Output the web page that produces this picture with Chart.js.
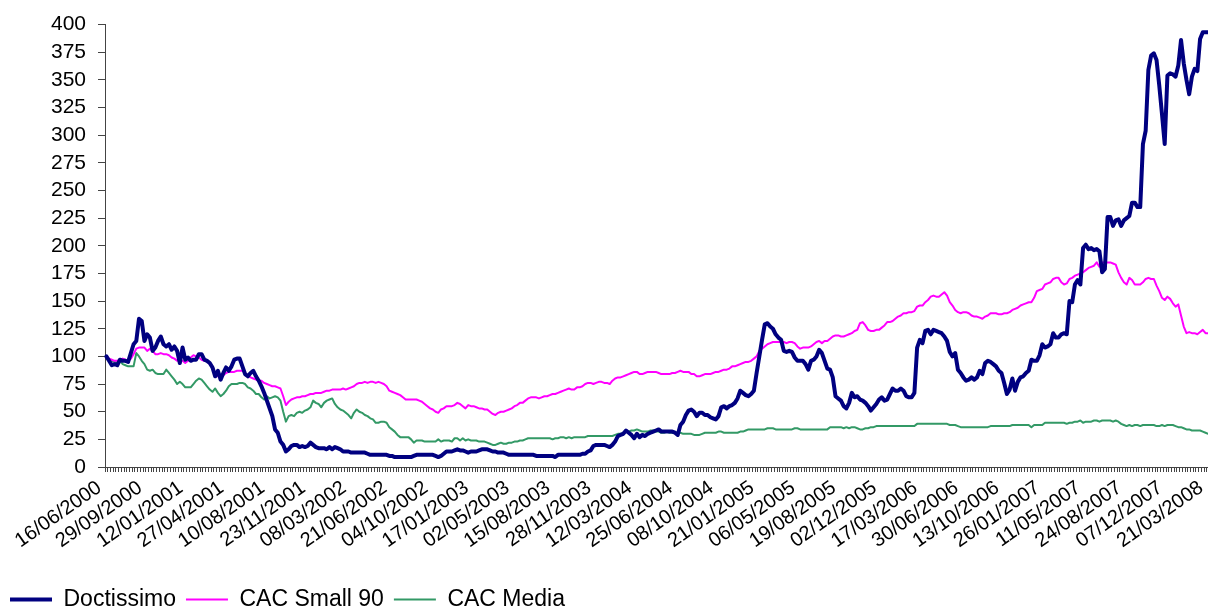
<!DOCTYPE html>
<html>
<head>
<meta charset="utf-8">
<script src="https://cdn.jsdelivr.net/npm/chart.js@4"></script>
<style>
  html, body { margin: 0; padding: 0; background: #fff; overflow: hidden; }
  #wrap { width: 1226px; height: 606px; position: relative; }
</style>
</head>
<body>
<div id="wrap"><canvas id="perfChart"></canvas></div>
<script>
// weekly closes, base 100 on 16/06/2000
const startDate = '2000-06-16';
const weekCount = 406;

const tickLabels = [
  '16/06/2000', '29/09/2000', '12/01/2001', '27/04/2001', '10/08/2001', '23/11/2001',
  '08/03/2002', '21/06/2002', '04/10/2002', '17/01/2003', '02/05/2003', '15/08/2003',
  '28/11/2003', '12/03/2004', '25/06/2004', '08/10/2004', '21/01/2005', '06/05/2005',
  '19/08/2005', '02/12/2005', '17/03/2006', '30/06/2006', '13/10/2006', '26/01/2007',
  '11/05/2007', '24/08/2007', '07/12/2007', '21/03/2008'
];

const doctissimo = [
  100,96,92,93,92,97,96,96,95,103, 111,114,134,132,114,120,117,105,108,114,
  118,111,109,111,106,109,105,94,108,97, 99,96,97,97,102,102,97,96,94,90,
  82,87,79,85,90,87,91,97,98,98, 91,84,82,85,87,82,78,73,67,60,
  53,46,34,31,23,20,14,16,19,20, 20,18,19,18,19,22,20,18,17,17,
  17,16,18,16,18,17,16,14,14,14, 13,13,13,13,13,13,12,11,11,11,
  11,11,11,11,10,
  10,9,9,9,9,9,9,9,10,11, 11,11,11,11,11,11,10,9,10,12,
  14,14,14,15,16,15,15,14,13,14, 14,14,15,16,16,16,15,14,14,13,
  13,13,12,11,11,11,11,11,11,11, 11,11,11,10,10,10,10,10,10,10,
  9,11,11,11,11,11,11,11,11,11, 12,12,14,15,19,20,20,20,20,19,
  18,
  20,23,28,29,30,33,31,29,26,30, 27,29,28,30,31,32,33,34,32,32,
  32,32,32,31,29,38,41,47,51,52, 50,46,49,49,47,47,45,44,43,46,
  54,55,53,55,56,58,62,69,67,65, 64,66,69,85,100,115,129,130,127,125,
  120,117,115,105,104,105,104,99,96,96, 96,93,88,
  96,97,100,106,103,96,89,88,81,64, 62,60,55,53,58,67,63,64,61,60,
  58,55,51,54,57,61,63,60,61,66, 71,69,69,71,69,64,63,63,67,108,
  115,112,123,124,120,124,123,122,121,118, 114,104,100,103,88,85,81,78,79,81,
  79,81,87,84,94,96,95,93,91,87, 85,76,66,70,
  80,69,77,81,82,85,87,97,96,96, 101,111,108,109,111,121,117,117,120,121,
  120,150,149,165,169,165,198,201,197,198, 196,197,195,176,179,226,226,
  218,223,224,218,223,225,227,239,239,235, 235,292,304,359,372,374,368,345,319,292,
  354,356,355,353,363,386,365,350,337,353, 360,358,387,393,393,393
];

const cacSmall90 = [
  100,98,97,96,96,97,98,97,96,98, 102,107,108,108,108,105,107,105,102,102,
  103,102,102,101,99,98,96,97,96,94, 96,99,101,100,99,97,96,96,93,91,
  84,82,81,83,85,86,86,86,87,87, 87,85,83,81,80,79,78,78,76,75,
  74,73,73,72,71,64,56,59,61,62, 63,63,64,64,65,66,66,67,67,67,
  68,69,69,70,70,70,70,71,70,71, 72,73,75,76,76,77,76,77,77,76,
  77,76,75,73,69,
  68,67,66,65,63,61,61,61,61,61, 60,59,57,55,53,52,50,49,52,53,
  55,55,55,56,58,57,55,53,56,55, 55,54,53,53,52,52,50,48,47,49,
  50,50,51,52,53,55,56,58,58,60, 62,63,63,63,62,63,64,64,65,66,
  66,67,68,69,70,71,70,70,72,72, 73,75,76,76,75,76,77,77,76,76,
  75,
  78,80,81,81,82,83,84,85,86,86, 84,84,85,86,86,86,86,85,84,84,
  84,84,85,85,86,87,86,86,86,84, 84,82,82,83,84,84,84,85,86,86,
  87,88,88,89,91,91,92,93,94,95, 95,96,98,100,105,107,109,111,112,113,
  113,113,113,113,112,113,113,112,109,107, 108,108,108,
  109,111,113,114,112,114,114,116,118,119, 119,118,118,119,120,121,123,124,130,131,
  128,124,123,123,124,124,126,128,131,131, 132,134,136,137,139,139,140,140,141,145,
  146,146,149,151,154,155,154,154,156,158, 155,149,146,142,140,139,140,140,139,137,
  136,136,135,134,136,137,139,139,139,138, 138,139,139,140,
  142,143,144,146,147,148,149,149,153,159, 160,161,165,166,167,170,171,171,167,165,
  166,170,171,173,174,175,176,178,180,181, 182,185,181,185,185,185,185,
  184,183,176,171,167,165,171,169,165,165, 165,167,170,171,170,170,164,159,153,151,
  154,152,148,145,147,137,127,121,122,121, 121,120,122,124,121,121
];

const cacMedia = [
  100,97,96,95,94,96,93,92,91,91, 91,103,100,96,93,88,87,88,85,84,
  84,84,88,85,82,79,75,77,75,72, 72,72,75,78,80,79,76,73,70,68,
  71,67,64,66,69,73,75,75,75,76, 76,75,72,71,69,66,66,63,61,64,
  62,63,64,63,60,50,41,46,47,46, 49,50,49,51,52,54,60,58,57,54,
  58,60,61,62,57,54,52,51,49,47, 44,49,52,50,49,47,46,44,43,40,
  40,41,41,40,36,
  34,32,29,27,27,27,27,25,22,24, 24,24,23,23,23,23,23,25,23,24,
  24,24,23,26,26,24,26,24,25,24, 24,24,23,23,23,22,21,20,20,21,
  22,21,21,22,22,23,23,24,24,25, 26,26,26,26,26,26,26,26,26,25,
  26,26,27,27,26,27,26,27,27,27, 27,27,28,28,28,28,28,28,28,28,
  28,
  28,29,30,30,31,32,32,33,33,34, 33,32,32,32,33,33,32,32,31,31,
  32,31,31,31,31,31,30,30,30,30, 29,29,29,30,31,31,31,31,31,32,
  32,31,31,31,31,31,31,32,32,33, 34,34,34,34,34,34,34,35,35,35,
  34,34,34,34,34,34,34,35,35,34, 34,34,34,
  34,34,34,34,34,34,34,36,36,36, 36,36,35,36,35,36,36,35,34,34,
  35,35,36,36,37,37,37,37,37,37, 37,37,37,37,37,37,37,37,37,39,
  39,39,39,39,39,39,39,39,39,39, 39,38,38,38,37,36,36,36,36,36,
  36,36,36,36,36,36,37,37,37,37, 37,37,37,37,
  38,38,38,38,38,38,38,36,38,38, 38,38,40,40,40,40,40,40,40,40,
  39,40,40,41,41,42,40,41,41,41, 42,42,41,42,42,42,42,
  41,42,41,39,38,37,38,37,38,38, 37,38,38,38,38,38,37,37,38,37,
  38,38,38,37,36,36,35,34,34,33, 33,33,33,32,31,30
];

// one category per week, dd/mm/yyyy
const labels = [];
const d0 = new Date(startDate + 'T00:00:00Z');
for (let i = 0; i < weekCount; i++) {
  const d = new Date(d0.getTime() + i * 7 * 86400000);
  const dd = String(d.getUTCDate()).padStart(2, '0');
  const mm = String(d.getUTCMonth() + 1).padStart(2, '0');
  labels.push(dd + '/' + mm + '/' + d.getUTCFullYear());
}

Chart.defaults.font.family = '"Liberation Sans", Arial, sans-serif';
Chart.defaults.color = '#000';

const ctx = document.getElementById('perfChart');

new Chart(ctx, {
  type: 'line',
  data: {
    labels: labels,
    datasets: [
      { label: 'Doctissimo', data: doctissimo, borderColor: '#000080', borderWidth: 4 },
      { label: 'CAC Small 90', data: cacSmall90, borderColor: '#ff00ff', borderWidth: 2 },
      { label: 'CAC Media', data: cacMedia, borderColor: '#339966', borderWidth: 2 }
    ]
  },
  options: {
    responsive: true,
    maintainAspectRatio: false,
    animation: false,
    elements: {
      point: { radius: 0, hoverRadius: 0 },
      line: { tension: 0, borderJoinStyle: 'round', borderCapStyle: 'round' }
    },
    layout: { padding: { top: 24, right: 0, bottom: -15, left: 0 } },
    plugins: {
      tooltip: { enabled: false },
      legend: {
        position: 'bottom',
        align: 'start',
        labels: {
          usePointStyle: true,
          pointStyle: 'line',
          pointStyleWidth: 42,
          padding: 10,
          font: { size: 23 },
          color: '#000'
        }
      }
    },
    scales: {
      x: {
        offset: true,
        grid: { offset: true, drawOnChartArea: false, tickLength: 5, color: '#444' },
        border: { color: '#444' },
        ticks: {
          autoSkip: false,
          maxRotation: 35,
          minRotation: 35,
          padding: 4,
          labelOffset: -7,
          font: { size: 20 },
          callback: function (value, index) {
            const lab = labels[index];
            return tickLabels.includes(lab) ? lab : '';
          }
        },
        afterFit: function (scale) { scale.height = 111; }
      },
      y: {
        min: 0,
        max: 400,
        grid: { drawOnChartArea: false, tickLength: 7, color: '#444' },
        border: { color: '#444' },
        ticks: { stepSize: 25, autoSkip: false, padding: 12, font: { size: 21 } },
        afterFit: function (scale) { scale.width = 105; }
      }
    }
  }
});
</script>
</body>
</html>
